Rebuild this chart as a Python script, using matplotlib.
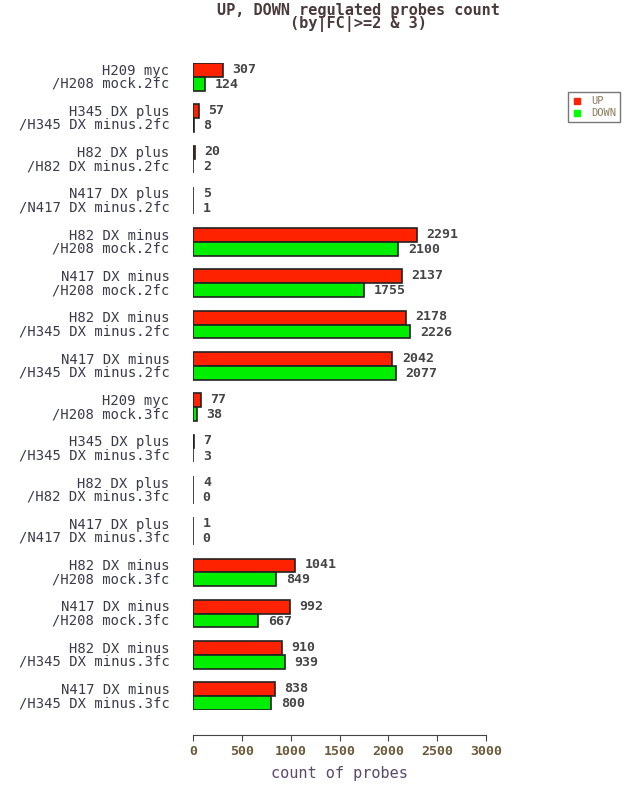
import matplotlib
matplotlib.use("Agg")
import matplotlib.pyplot as plt
from matplotlib.lines import Line2D

labels_top = ["H209 myc", "H345 DX plus", "H82 DX plus", "N417 DX plus",
              "H82 DX minus", "N417 DX minus", "H82 DX minus", "N417 DX minus",
              "H209 myc", "H345 DX plus", "H82 DX plus", "N417 DX plus",
              "H82 DX minus", "N417 DX minus", "H82 DX minus", "N417 DX minus"]
labels_bot = ["/H208 mock.2fc", "/H345 DX minus.2fc", "/H82 DX minus.2fc", "/N417 DX minus.2fc",
              "/H208 mock.2fc", "/H208 mock.2fc", "/H345 DX minus.2fc", "/H345 DX minus.2fc",
              "/H208 mock.3fc", "/H345 DX minus.3fc", "/H82 DX minus.3fc", "/N417 DX minus.3fc",
              "/H208 mock.3fc", "/H208 mock.3fc", "/H345 DX minus.3fc", "/H345 DX minus.3fc"]
up = [307, 57, 20, 5, 2291, 2137, 2178, 2042, 77, 7, 4, 1, 1041, 992, 910, 838]
down = [124, 8, 2, 1, 2100, 1755, 2226, 2077, 38, 3, 0, 0, 849, 667, 939, 800]
xticks = [0, 500, 1000, 1500, 2000, 2500, 3000]

W, H = 643, 789
fig = plt.figure(figsize=(W / 100, H / 100), dpi=100)
left, right = 193, 486
top, bottom = 63, 710
ax = fig.add_axes([left / W, 1 - bottom / H, (right - left) / W, (bottom - top) / H])
ax.set_xlim(0, 3000)
ax.set_ylim(48, 1)

mono = "DejaVu Sans Mono"
txtc = "#3a3a4a"
red = "#ff2200"
green = "#00ee00"
edge = "#222222"

for i in range(len(up)):
    y0 = 3 * i + 1
    ax.barh(y0 + 0.5, up[i], height=1, color=red, edgecolor=edge, linewidth=1.2)
    ax.barh(y0 + 1.5, down[i], height=1, color=green, edgecolor=edge, linewidth=1.2)
    ax.annotate(str(up[i]), (up[i], y0 + 0.45), xytext=(7, 0), textcoords="offset points",
                ha="left", va="center", fontsize=9.5, family=mono, fontweight="bold",
                color="#444444", annotation_clip=False)
    ax.annotate(str(down[i]), (down[i], y0 + 1.55), xytext=(7, 0), textcoords="offset points",
                ha="left", va="center", fontsize=9.5, family=mono, fontweight="bold",
                color="#444444", annotation_clip=False)
    ax.annotate(labels_top[i], (0, y0 + 0.55), xytext=(-17, 0), textcoords="offset points",
                ha="right", va="center", fontsize=10, family=mono, color=txtc,
                annotation_clip=False)
    ax.annotate(labels_bot[i], (0, y0 + 1.5), xytext=(-17, 0), textcoords="offset points",
                ha="right", va="center", fontsize=10, family=mono, color=txtc,
                annotation_clip=False)

for s in ["top", "right", "left"]:
    ax.spines[s].set_visible(False)
ax.spines["bottom"].set_position(("outward", 18))
ax.spines["bottom"].set_bounds(0, 3000)
ax.spines["bottom"].set_color("#444444")
ax.set_yticks([])
ax.set_xticks(xticks)
ax.set_xticklabels([str(t) for t in xticks], family=mono, fontsize=9.5,
                   fontweight="bold", color="#6a5a3a")
ax.tick_params(axis="x", length=4, color="#444444", pad=3)
ax.set_xlabel("count of probes", family=mono, fontsize=11, color="#5a4a6a", labelpad=6)

fig.text(358 / W, 1 - 10 / H, "UP, DOWN regulated probes count", ha="center", va="center",
         family=mono, fontsize=11, fontweight="bold", color="#4a3a3a")
fig.text(358 / W, 1 - 24 / H, "(by|FC|>=2 & 3)", ha="center", va="center",
         family=mono, fontsize=11, fontweight="bold", color="#4a3a3a")

handles = [Line2D([], [], marker="s", linestyle="none", color=red, markersize=4),
           Line2D([], [], marker="s", linestyle="none", color="#00ff00", markersize=4)]
leg = fig.legend(handles, ["UP", "DOWN"], loc="upper left",
                 bbox_to_anchor=(568 / W, 1 - 92 / H), fancybox=False, frameon=True,
                 prop={"family": mono, "size": 7.5}, handlelength=1.0, handletextpad=0.8,
                 borderpad=0.4, labelspacing=0.2, borderaxespad=0)
leg.get_frame().set_edgecolor("#555555")
leg.get_frame().set_linewidth(1.0)
for t in leg.get_texts():
    t.set_color("#8a7a5a")

fig.savefig("out.png", dpi=100)
